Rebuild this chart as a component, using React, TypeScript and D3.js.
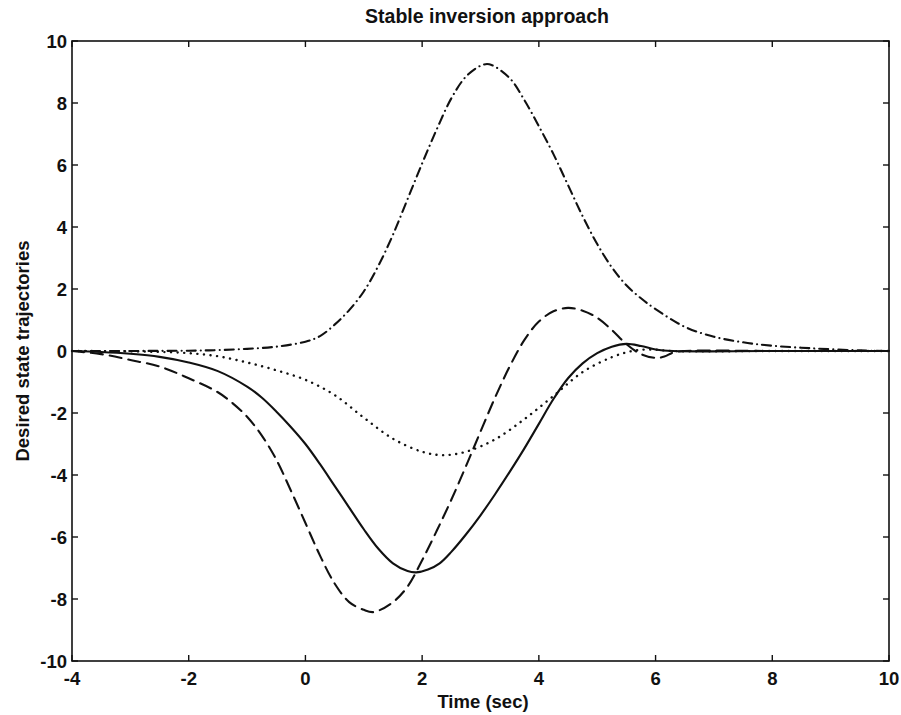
import React from "react";
import * as d3 from "d3";

const title = "Stable inversion approach";
const xLabel = "Time (sec)";
const yLabel = "Desired state trajectories";
const xTicks = [-4, -2, 0, 2, 4, 6, 8, 10];
const yTicks = [-10, -8, -6, -4, -2, 0, 2, 4, 6, 8, 10];

const solidT = [-4, -3.5, -3, -2.5, -2, -1.5, -1, -0.75, -0.5, -0.25, 0, 0.25, 0.5, 0.75, 1, 1.25, 1.5, 1.75, 1.9, 2.1, 2.3, 2.5, 2.75, 3, 3.25, 3.5, 3.75, 4, 4.25, 4.5, 4.75, 5, 5.25, 5.5, 5.75, 6, 6.3, 8, 10];
const solidY = [0, -0.03, -0.09, -0.19, -0.37, -0.65, -1.15, -1.5, -1.95, -2.45, -3.0, -3.65, -4.35, -5.05, -5.75, -6.38, -6.85, -7.1, -7.14, -7.05, -6.85, -6.48, -5.92, -5.3, -4.62, -3.9, -3.15, -2.35, -1.55, -0.88, -0.4, -0.07, 0.14, 0.23, 0.16, 0.05, 0, 0, 0];

const dashT = [-4, -3.5, -3, -2.5, -2, -1.5, -1.25, -1, -0.75, -0.5, -0.25, 0, 0.25, 0.5, 0.75, 1, 1.17, 1.5, 1.75, 2, 2.25, 2.5, 2.75, 3, 3.25, 3.5, 3.75, 4, 4.25, 4.5, 4.75, 5, 5.25, 5.5, 5.75, 6, 6.15, 6.3, 6.5, 8, 10];
const dashY = [0, -0.1, -0.29, -0.5, -0.88, -1.33, -1.68, -2.12, -2.72, -3.5, -4.5, -5.55, -6.6, -7.5, -8.1, -8.35, -8.42, -8.1, -7.6, -6.75, -5.8, -4.8, -3.72, -2.6, -1.5, -0.5, 0.35, 0.95, 1.28, 1.39, 1.3, 1.07, 0.68, 0.22, -0.1, -0.22, -0.18, -0.05, 0, 0, 0];

const dotT = [-4, -3, -2.5, -2, -1.5, -1, -0.5, 0, 0.5, 1, 1.5, 2, 2.35, 2.75, 3.25, 3.75, 4.25, 4.75, 5.25, 5.6, 5.9, 6.3, 8, 10];
const dotY = [0, -0.01, -0.03, -0.07, -0.17, -0.37, -0.62, -0.93, -1.42, -2.15, -2.83, -3.25, -3.36, -3.25, -2.85, -2.2, -1.45, -0.68, -0.2, 0.0, 0.05, 0, 0, 0];

const dashDotT = [-4, -2, -1.5, -1, -0.5, 0, 0.25, 0.5, 0.75, 1, 1.25, 1.5, 1.75, 2, 2.25, 2.5, 2.75, 3, 3.15, 3.5, 3.75, 4, 4.25, 4.5, 4.75, 5, 5.25, 5.5, 5.75, 6, 6.5, 7, 7.5, 8, 8.75, 9.5, 10];
const dashDotY = [0, 0.01, 0.03, 0.07, 0.14, 0.3, 0.48, 0.85, 1.32, 1.92, 2.75, 3.75, 4.9, 6.05, 7.15, 8.15, 8.85, 9.2, 9.25, 8.8, 8.1, 7.25, 6.35, 5.35, 4.35, 3.45, 2.7, 2.12, 1.7, 1.35, 0.78, 0.46, 0.28, 0.17, 0.08, 0.02, 0];

const series = [
  { t: solidT, y: solidY, dash: "none", w: 2.1 },
  { t: dashT, y: dashY, dash: "12,7", w: 2.1 },
  { t: dotT, y: dotY, dash: "0.1,6.5", w: 2.4 },
  { t: dashDotT, y: dashDotY, dash: "9,5,0.1,5", w: 2.1 },
];

export default function App() {
  const W = 901, H = 715;
  const left = 72, right = 889, top = 41, bottom = 661;
  const x = d3.scaleLinear().domain([-4, 10]).range([left, right]);
  const y = d3.scaleLinear().domain([-10, 10]).range([bottom, top]);
  const line = d3.line<[number, number]>()
    .x((d) => x(d[0]))
    .y((d) => y(d[1]))
    .curve(d3.curveCatmullRom.alpha(0.5));
  const font = "'Liberation Sans', Arial, Helvetica, sans-serif";
  const tl = 6;
  return (
    <svg width={W} height={H} style={{ position: "absolute", left: 0, top: 0, background: "#fff" }}>
      <rect x={0} y={0} width={W} height={H} fill="#fff" />
      <g fill="none" stroke="#111">
        {series.map((s, i) => (
          <path
            key={i}
            d={line(s.t.map((t, j) => [t, s.y[j]] as [number, number])) || ""}
            strokeDasharray={s.dash}
            strokeLinecap={s.dash === "none" ? "butt" : "round"}
            strokeWidth={s.w}
          />
        ))}
      </g>
      <rect x={left} y={top} width={right - left} height={bottom - top} fill="none" stroke="#111" strokeWidth={1.6} />
      <g stroke="#111" strokeWidth={1.4}>
        {xTicks.map((t) => (
          <g key={"x" + t}>
            <line x1={x(t)} x2={x(t)} y1={bottom} y2={bottom - tl} />
            <line x1={x(t)} x2={x(t)} y1={top} y2={top + tl} />
          </g>
        ))}
        {yTicks.map((t) => (
          <g key={"y" + t}>
            <line x1={left} x2={left + tl} y1={y(t)} y2={y(t)} />
            <line x1={right} x2={right - tl} y1={y(t)} y2={y(t)} />
          </g>
        ))}
      </g>
      <g fontFamily={font} fontSize={18.5} fontWeight="bold" fill="#111">
        {xTicks.map((t) => (
          <text key={"xl" + t} x={x(t)} y={685} textAnchor="middle">{t}</text>
        ))}
        {yTicks.map((t) => (
          <text key={"yl" + t} x={67} y={y(t) + 6.5} textAnchor="end">{t}</text>
        ))}
        <text x={483} y={708} textAnchor="middle">{xLabel}</text>
        <text x={487} y={23} textAnchor="middle" fontSize={19.5}>{title}</text>
        <text transform={`translate(29,${y(0)}) rotate(-90)`} textAnchor="middle">{yLabel}</text>
      </g>
    </svg>
  );
}
